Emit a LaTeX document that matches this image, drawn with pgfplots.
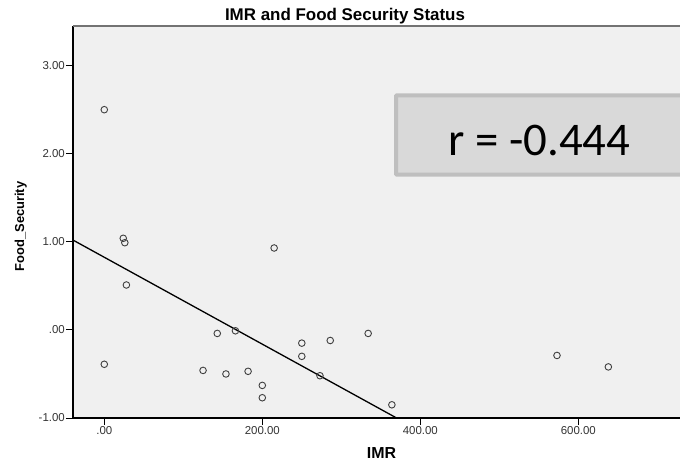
\documentclass[border=0pt]{standalone}
\usepackage{fontspec}
\setmainfont{Liberation Sans}
\newfontfamily\carlito{Carlito}
\usepackage{pgfplots}
\pgfplotsset{compat=1.18}
\definecolor{bggray}{HTML}{F0F0F0}
\definecolor{boxfill}{HTML}{D9D9D9}
\definecolor{boxborder}{HTML}{BFBFBF}
\begin{document}
\begin{tikzpicture}
\useasboundingbox (0,0) rectangle (680bp,-461bp);
\begin{axis}[
  at={(73bp,-418bp)}, anchor=south west,
  scale only axis, width=607bp, height=392bp,
  xmin=-39.6, xmax=728.7, ymin=-1, ymax=3.45,
  axis x line*=bottom, axis y line*=left,
  axis line style={black, line width=1.2bp},
  axis background/.style={fill=bggray},
  xtick={0,200,400,600}, xticklabels={.00,200.00,400.00,600.00},
  ytick={-1,0,1,2,3}, yticklabels={-1.00,.00,1.00,2.00,3.00},
  minor tick num=0,
  tick align=outside, major tick length=7bp,
  tick style={black, line width=1bp},
  ticklabel style={font=\fontsize{11.5}{12}\selectfont, text=black!80},
  xticklabel style={inner sep=1bp},
  yticklabel style={inner sep=1bp},
  clip=false,
]
\addplot[only marks, mark=o, mark size=3.3bp, draw=black!75, mark options={line width=0.9bp}] coordinates {
(0,2.50) (0,-0.39) (24,1.04) (26,0.99) (28,0.51) (215,0.93)
(143,-0.04) (166,-0.01) (125,-0.46) (154,-0.50) (182,-0.47)
(200,-0.63) (200,-0.77) (250,-0.15) (250,-0.30) (286,-0.12)
(334,-0.04) (273,-0.52) (364,-0.85) (573,-0.29) (638,-0.42)
};
\addplot[black, line width=1.3bp] coordinates {(-39.6,1.02) (370,-1.0)};
\draw[black!55, line width=1.2bp] (rel axis cs:0,1) -- (rel axis cs:1,1);
\end{axis}
\draw[line width=4bp, draw=boxborder, fill=boxfill, rounded corners=1bp] (396bp,-95.3bp) rectangle (700bp,-174.7bp);
\node[anchor=base, inner sep=0] at (539.5bp,-155bp) {\carlito\fontsize{47}{50}\selectfont r = -0.444};
\node[anchor=base, inner sep=0] at (345bp,-20bp) {\fontsize{17}{20}\selectfont\bfseries IMR and Food Security Status};
\node[anchor=base, inner sep=0] at (381.5bp,-458bp) {\fontsize{16}{18}\selectfont\bfseries IMR};
\node[anchor=base, inner sep=0, rotate=90] at (24bp,-226.5bp) {\fontsize{13}{15}\selectfont\bfseries Food\_Security};
\end{tikzpicture}
\end{document}
